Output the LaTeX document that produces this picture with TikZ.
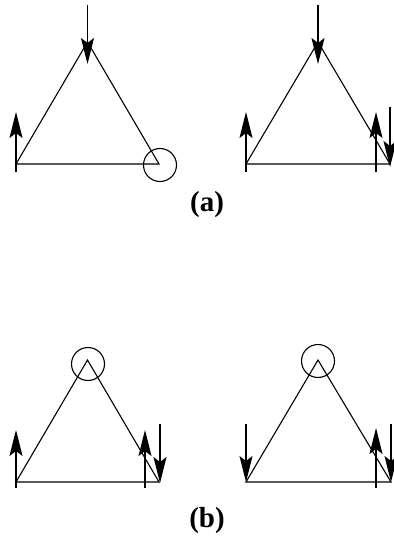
\documentclass[tikz,border=0pt]{standalone}
\usepackage{fontspec}
\setmainfont{Liberation Serif}[BoldFont={Liberation Serif Bold}]
\usetikzlibrary{arrows.meta}
\begin{document}
\begin{tikzpicture}[x=1pt,y=-1pt,line width=1.1pt,
  tri/.style={draw,line join=miter},
  arr/.style={-{Stealth[length=26pt,width=13pt,inset=5pt]}},
  mark circle/.style={draw,circle,minimum size=33pt,inner sep=0pt,line width=1.1pt},
  lab/.style={font=\fontsize{29}{32}\selectfont\bfseries,inner sep=0pt}]
\useasboundingbox (0,0) rectangle (393,540);
% ---------- panel (a) left ----------
\coordinate (aL1) at (16,164);
\coordinate (aT1) at (87.5,42);
\coordinate (aR1) at (159,164);
\draw[tri] (aL1) -- (aT1) -- (aR1) -- cycle;
\coordinate (aT1s) at (87.5,5);
\coordinate (aT1e) at (87.5,64);
\draw[arr] (aT1s) -- (aT1e);
\coordinate (aL1s) at (16,172);
\coordinate (aL1e) at (16,112);
\draw[arr] (aL1s) -- (aL1e);
\node[mark circle] (c1) at (160,165) {};
% ---------- panel (a) right ----------
\coordinate (aL2) at (246,164);
\coordinate (aT2) at (318,42);
\coordinate (aR2) at (390,164);
\draw[tri] (aL2) -- (aT2) -- (aR2) -- cycle;
\coordinate (aT2s) at (318,5);
\coordinate (aT2e) at (318,64);
\draw[arr] (aT2s) -- (aT2e);
\coordinate (aL2s) at (246,172);
\coordinate (aL2e) at (246,112);
\draw[arr] (aL2s) -- (aL2e);
\coordinate (aU2s) at (376,172);
\coordinate (aU2e) at (376,112);
\draw[arr] (aU2s) -- (aU2e);
\coordinate (aD2s) at (390,107);
\coordinate (aD2e) at (390,167);
\draw[arr] (aD2s) -- (aD2e);
\node[lab] (la) at (207,205) {(a)};
% ---------- panel (b) left ----------
\coordinate (bL1) at (16,482);
\coordinate (bT1) at (87.5,360);
\coordinate (bR1) at (159,482);
\draw[tri] (bL1) -- (bT1) -- (bR1) -- cycle;
\node[mark circle] (c2) at (88,364) {};
\coordinate (bL1s) at (16,488);
\coordinate (bL1e) at (16,430);
\draw[arr] (bL1s) -- (bL1e);
\coordinate (bU1s) at (145,488);
\coordinate (bU1e) at (145,430);
\draw[arr] (bU1s) -- (bU1e);
\coordinate (bD1s) at (160,424);
\coordinate (bD1e) at (160,483);
\draw[arr] (bD1s) -- (bD1e);
% ---------- panel (b) right ----------
\coordinate (bL2) at (246,482);
\coordinate (bT2) at (318,360);
\coordinate (bR2) at (391,482);
\draw[tri] (bL2) -- (bT2) -- (bR2) -- cycle;
\node[mark circle] (c3) at (318,361) {};
\coordinate (bL2s) at (246,424);
\coordinate (bL2e) at (246,482);
\draw[arr] (bL2s) -- (bL2e);
\coordinate (bU2s) at (376,488);
\coordinate (bU2e) at (376,428);
\draw[arr] (bU2s) -- (bU2e);
\coordinate (bD2s) at (391,424);
\coordinate (bD2e) at (391,482);
\draw[arr] (bD2s) -- (bD2e);
\node[lab] (lb) at (207,521) {(b)};
\end{tikzpicture}
\end{document}
